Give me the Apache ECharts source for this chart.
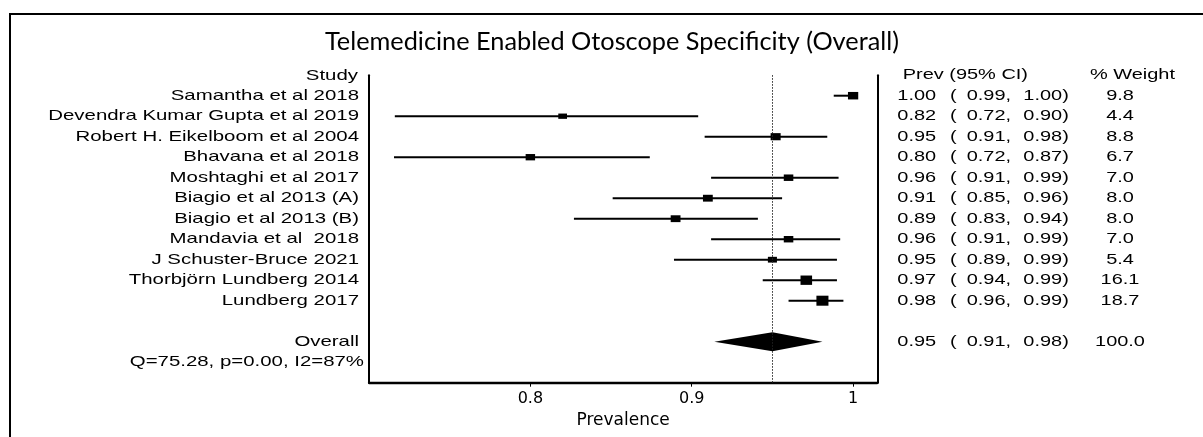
<!DOCTYPE html>
<html>
<head>
<meta charset="utf-8">
<script src="https://cdn.jsdelivr.net/npm/echarts@6/dist/echarts.min.js"></script>
<style>html,body{margin:0;padding:0;background:#fff}#c{width:1203px;height:437px}</style>
</head>
<body>
<div id="c"></div>
<script>
// ---- data ----
const studies = ["Samantha et al 2018","Devendra Kumar Gupta et al 2019","Robert H. Eikelboom et al 2004","Bhavana et al 2018","Moshtaghi et al 2017","Biagio et al 2013 (A)","Biagio et al 2013 (B)","Mandavia et al  2018","J Schuster-Bruce 2021","Thorbjörn Lundberg 2014","Lundberg 2017"];
const est    = [1.000,0.820,0.952,0.800,0.960,0.910,0.890,0.960,0.950,0.971,0.981];
const lower  = [0.988,0.716,0.908,0.7155,0.912,0.851,0.827,0.912,0.889,0.944,0.960];
const upper  = [1.000,0.904,0.984,0.874,0.991,0.956,0.941,0.992,0.990,0.990,0.994];
const weight = [9.8,4.4,8.8,6.7,7.0,8.0,8.0,7.0,5.4,16.1,18.7];
const overallEst = [0.950], overallLower = [0.914], overallUpper = [0.981], overallWeight = [100.0];
const overallLabel = "Overall";
const statsLabel = "Q=75.28, p=0.00, I2=87%";
const headers = ["Study","Prev (95% CI)","% Weight"];
const xTicks = [0.8, 0.9, 1];
const axisTitle = "Prevalence";
const chartTitle = "Telemedicine Enabled Otoscope Specificity (Overall)";
const pooledRef = 0.95;

// ---- layout helpers ----
const FONT = '15px "Liberation Sans", Arial, sans-serif';
const SX_L = 1.36, SX_R = 1.33;
function txt(s, x, y, align, sx) {
  return {type:'text', x:x, y:y, scaleX:sx, scaleY:1,
    style:{text:s, font:FONT, fill:'#000', align:align, verticalAlign:'middle'}};
}
function rightCols(right, y, e, l, h, w) {
  return [
    txt(e.toFixed(2), right + 20, y, 'left', SX_R),
    txt('(', right + 72.7, y, 'left', SX_R),
    txt(l.toFixed(2) + ',', right + 89.4, y, 'left', SX_R),
    txt(h.toFixed(2) + ')', right + 146, y, 'left', SX_R),
    txt(w.toFixed(1), right + 242.7, y, 'center', SX_R)
  ];
}

const studyData = studies.map((n, i) => [i, est[i], lower[i], upper[i], weight[i]]);

function renderStudy(params, api) {
  const i = api.value(0), e = api.value(1), l = api.value(2), h = api.value(3), w = api.value(4);
  const cs = params.coordSys;
  const pL = api.coord([l, i]), pH = api.coord([h, i]), pE = api.coord([e, i]);
  const sw = 5.6 + 1.49 * Math.sqrt(w), sh = 0.85 + 2.12 * Math.sqrt(w);
  const ch = [
    {type:'line', shape:{x1:pL[0], y1:pL[1], x2:pH[0], y2:pH[1]}, style:{stroke:'#000', lineWidth:2}},
    {type:'rect', shape:{x:pE[0]-sw/2, y:pE[1]-sh/2, width:sw, height:sh}, style:{fill:'#000'}},
    txt(studies[i], cs.x - 10, pE[1], 'right', SX_L)
  ].concat(rightCols(cs.x + cs.width, pE[1], e, l, h, w));
  return {type:'group', children:ch};
}

function renderOverall(params, api) {
  const row = api.value(0), e = api.value(1), l = api.value(2), h = api.value(3), w = api.value(4);
  const cs = params.coordSys;
  const pL = api.coord([l, row]), pH = api.coord([h, row]);
  const top = api.coord([e, row - 0.46]), bot = api.coord([e, row + 0.46]);
  const ch = [
    {type:'polygon', shape:{points:[pL, top, pH, bot]}, style:{fill:'#000'}},
    txt(overallLabel, cs.x - 10, pL[1], 'right', SX_L),
    txt(statsLabel, cs.x - 5, api.coord([e, row + 1])[1], 'right', SX_L)
  ].concat(rightCols(cs.x + cs.width, pL[1], e, l, h, w));
  return {type:'group', children:ch};
}

function renderHeader(params, api) {
  const cs = params.coordSys;
  const y = api.coord([pooledRef, api.value(0)])[1];
  const r = cs.x + cs.width;
  return {type:'group', children:[
    txt(headers[0], cs.x - 11, y + 1, 'right', SX_L),
    txt(headers[1], r + 25.4, y, 'left', SX_R),
    txt(headers[2], r + 212.7, y, 'left', SX_R)
  ]};
}

const chart = echarts.init(document.getElementById('c'), null, {renderer:'canvas'});
chart.setOption({
  animation:false,
  backgroundColor:'#fff',
  title:{text:chartTitle, left:325, top:29, padding:0,
    textStyle:{fontFamily:'Lato', fontWeight:'normal', fontSize:25.3, color:'#000'}},
  graphic:[{type:'rect', shape:{x:10, y:14, width:1400, height:600}, style:{fill:'none', stroke:'#000', lineWidth:2}, silent:true}],
  grid:{left:369, right:325.7, top:75.2, bottom:54.3},
  xAxis:{type:'value', min:0.7, max:1.015, splitLine:{show:false},
    axisLine:{show:true, onZero:false, lineStyle:{color:'#000', width:2.3}},
    axisTick:{show:true, customValues:xTicks, length:4, lineStyle:{color:'#000', width:1}},
    axisLabel:{customValues:xTicks, margin:8, fontFamily:'"DejaVu Sans"', fontSize:16, color:'#000'},
    name:axisTitle, nameLocation:'middle', nameGap:27,
    nameTextStyle:{fontFamily:'"DejaVu Sans"', fontSize:17, color:'#000', verticalAlign:'top'}},
  yAxis:[
    {type:'value', min:-1, max:14, inverse:true, position:'left', splitLine:{show:false},
      axisLine:{show:true, onZero:false, lineStyle:{color:'#000', width:2}}, axisTick:{show:false}, axisLabel:{show:false}},
    {type:'value', min:-1, max:14, inverse:true, position:'right', splitLine:{show:false},
      axisLine:{show:true, onZero:false, lineStyle:{color:'#000', width:2}}, axisTick:{show:false}, axisLabel:{show:false}}
  ],
  series:[
    {type:'custom', name:'studies', renderItem:renderStudy, data:studyData, clip:false,
      encode:{x:[1,2,3], y:0},
      markLine:{silent:true, symbol:'none', label:{show:false},
        lineStyle:{type:[1.5,1.5], color:'#222', width:1}, data:[{xAxis:pooledRef}]}},
    {type:'custom', name:'overall', renderItem:renderOverall, clip:false,
      data:[[12, overallEst[0], overallLower[0], overallUpper[0], overallWeight[0]]], encode:{x:[1,2,3], y:0}},
    {type:'custom', name:'header', renderItem:renderHeader, clip:false, data:[[-1]], encode:{y:0}}
  ]
});
</script>
</body>
</html>
